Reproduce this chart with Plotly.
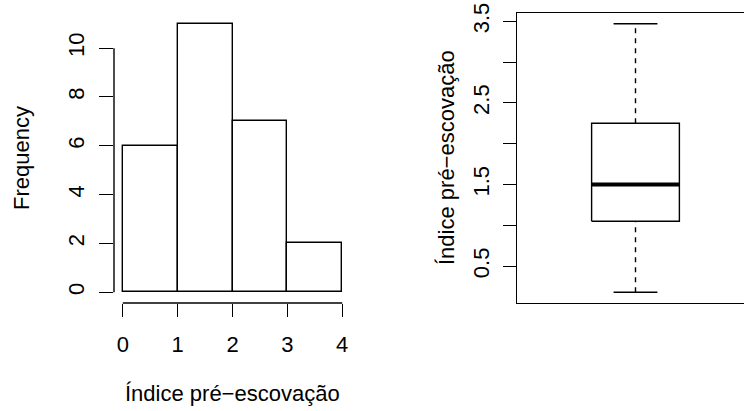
import plotly.graph_objects as go

# ---- data ----
bin_edges = [0, 1, 2, 3, 4]
hist_counts = [6, 11, 7, 2]
hist_yticks = [0, 2, 4, 6, 8, 10]
hist_xticks = [0, 1, 2, 3, 4]

box_min = 0.18
box_q1 = 1.05
box_median = 1.5
box_q3 = 2.25
box_max = 3.47
box_yticks = [0.5, 1.0, 1.5, 2.0, 2.5, 3.0, 3.5]
box_yticktext = ["0.5", "", "1.5", "", "2.5", "", "3.5"]

xlabel = "Índice pré\u2212escovação"
ylabel_hist = "Frequency"
ylabel_box = "Índice pré\u2212escovação"

# ---- layout constants ----
W, H = 744, 411
FONT = dict(family="Liberation Sans, Arial, sans-serif", size=22, color="black")
LW = 1.4
BLACK = "#000000"

def px_x(p):
    return p / W

def px_y(p):
    return (H - p) / H

fig = go.Figure()

# Histogram bars
centers = [(bin_edges[i] + bin_edges[i + 1]) / 2 for i in range(len(hist_counts))]
widths = [bin_edges[i + 1] - bin_edges[i] for i in range(len(hist_counts))]
fig.add_trace(go.Bar(
    x=centers, y=hist_counts, width=widths,
    marker=dict(color="white", line=dict(color=BLACK, width=LW)),
    xaxis="x", yaxis="y", showlegend=False, hoverinfo="skip",
))

# Boxplot drawn from statistics (R style)
bx0, bx1 = 0.8, 1.2
cx0, cx1 = 0.9, 1.1
fig.add_trace(go.Scatter(
    x=[bx0, bx1, bx1, bx0, bx0], y=[box_q1, box_q1, box_q3, box_q3, box_q1],
    mode="lines", line=dict(color=BLACK, width=LW),
    fill="toself", fillcolor="white",
    xaxis="x2", yaxis="y2", showlegend=False, hoverinfo="skip",
))
fig.add_trace(go.Scatter(
    x=[bx0, bx1], y=[box_median, box_median], mode="lines",
    line=dict(color=BLACK, width=4),
    xaxis="x2", yaxis="y2", showlegend=False, hoverinfo="skip",
))
for lo, hi in [(box_min, box_q1), (box_q3, box_max)]:
    fig.add_trace(go.Scatter(
        x=[1, 1], y=[lo, hi], mode="lines",
        line=dict(color=BLACK, width=LW, dash="5px,5px"),
        xaxis="x2", yaxis="y2", showlegend=False, hoverinfo="skip",
    ))
for v in [box_min, box_max]:
    fig.add_trace(go.Scatter(
        x=[cx0, cx1], y=[v, v], mode="lines",
        line=dict(color=BLACK, width=LW),
        xaxis="x2", yaxis="y2", showlegend=False, hoverinfo="skip",
    ))

# axis ranges (R style 4% extension)
hx_lo, hx_hi = bin_edges[0], bin_edges[-1]
hx_ext = 0.04 * (hx_hi - hx_lo)
hy_hi = max(hist_counts)
hy_ext = 0.04 * hy_hi
by_ext = 0.04 * (box_max - box_min)

box_px_left = 517
box_px_right_full = 754
bx_range_lo = 0.46
bx_range_hi = bx_range_lo + 1.08 * (W - box_px_left) / (box_px_right_full - box_px_left)

fig.update_layout(
    template="none",
    width=W, height=H,
    margin=dict(l=0, r=0, t=0, b=0, autoexpand=False),
    paper_bgcolor="white", plot_bgcolor="white",
    font=FONT,
    bargap=0,
    xaxis=dict(
        domain=[px_x(114), px_x(351)], anchor="y", automargin=False,
        range=[hx_lo - hx_ext, hx_hi + hx_ext],
        tickmode="array", tickvals=hist_xticks, ticktext=[str(v) for v in hist_xticks],
        ticks="outside", ticklen=13, tickwidth=LW, tickcolor=BLACK,
        showline=False, showgrid=False, zeroline=False,
        tickfont=FONT, ticklabelstandoff=9,
    ),
    yaxis=dict(
        domain=[px_y(303), px_y(13)], anchor="x", automargin=False,
        range=[-hy_ext, hy_hi + hy_ext],
        tickmode="array", tickvals=hist_yticks, ticktext=[str(v) for v in hist_yticks],
        ticks="outside", ticklen=14, tickwidth=LW, tickcolor=BLACK,
        tickangle=-90,
        showline=False, showgrid=False, zeroline=False,
        tickfont=FONT, ticklabelstandoff=6,
    ),
    xaxis2=dict(
        domain=[px_x(box_px_left), 1.0], anchor="y2", automargin=False,
        range=[bx_range_lo, bx_range_hi],
        showticklabels=False, ticks="",
        showline=True, mirror=True, linecolor=BLACK, linewidth=LW,
        showgrid=False, zeroline=False,
    ),
    yaxis2=dict(
        domain=[px_y(303), px_y(13)], anchor="x2", automargin=False,
        range=[box_min - by_ext, box_max + by_ext],
        tickmode="array", tickvals=box_yticks, ticktext=box_yticktext,
        ticks="outside", ticklen=12.5, tickwidth=LW, tickcolor=BLACK,
        tickangle=-90,
        showline=True, linecolor=BLACK, linewidth=LW,
        showgrid=False, zeroline=False,
        tickfont=FONT, ticklabelstandoff=6,
    ),
    shapes=[
        dict(type="line", xref="x", yref="y domain",
             x0=hist_xticks[0], x1=hist_xticks[-1], y0=0, y1=0,
             line=dict(color=BLACK, width=LW)),
        dict(type="line", xref="x domain", yref="y",
             x0=0, x1=0, y0=hist_yticks[0], y1=hist_yticks[-1],
             line=dict(color=BLACK, width=LW)),
    ],
    annotations=[
        dict(text=xlabel, xref="paper", yref="paper",
             x=px_x(232.5), y=px_y(393), xanchor="center", yanchor="middle",
             showarrow=False, font=FONT),
        dict(text=ylabel_hist, xref="paper", yref="paper",
             x=px_x(21), y=px_y(158), xanchor="center", yanchor="middle",
             textangle=-90, showarrow=False, font=FONT),
        dict(text=ylabel_box, xref="paper", yref="paper",
             x=px_x(446), y=px_y(158), xanchor="center", yanchor="middle",
             textangle=-90, showarrow=False, font=FONT),
    ],
)

fig.write_html(
    "out.html",
    config={"displayModeBar": False},
    post_script="document.body.style.margin='0';document.body.style.overflow='hidden';",
)
